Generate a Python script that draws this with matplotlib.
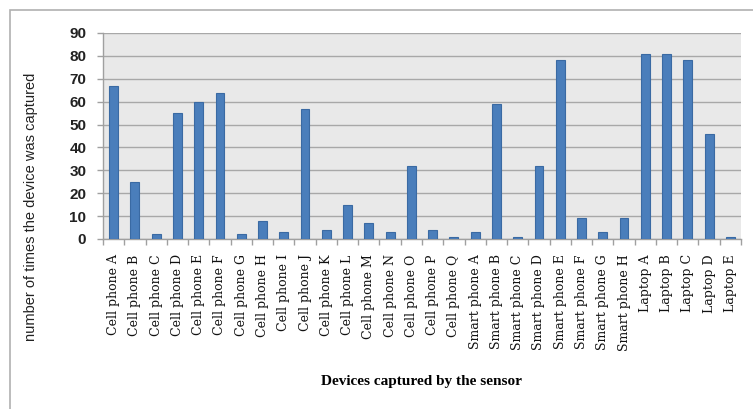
import matplotlib
matplotlib.use("Agg")
import matplotlib.pyplot as plt
from matplotlib.patches import Rectangle
from matplotlib.ticker import FixedLocator, NullFormatter
import numpy as np

devices = [
    "Cell phone A", "Cell phone B", "Cell phone C", "Cell phone D", "Cell phone E",
    "Cell phone F", "Cell phone G", "Cell phone H", "Cell phone I", "Cell phone J",
    "Cell phone K", "Cell phone L", "Cell phone M", "Cell phone N", "Cell phone O",
    "Cell phone P", "Cell phone Q",
    "Smart phone A", "Smart phone B", "Smart phone C", "Smart phone D",
    "Smart phone E", "Smart phone F", "Smart phone G", "Smart phone H",
    "Laptop A", "Laptop B", "Laptop C", "Laptop D", "Laptop E",
]
captures = [67, 25, 2, 55, 60, 64, 2, 8, 3, 57, 4, 15, 7, 3, 32, 4, 1,
            3, 59, 1, 32, 78, 9, 3, 9,
            81, 81, 78, 46, 1]
y_ticks = [0, 10, 20, 30, 40, 50, 60, 70, 80, 90]

fig = plt.figure(figsize=(7.53, 4.09), dpi=100)
fig.patch.set_facecolor("white")

# light frame around the chart area
fig.add_artist(Rectangle((10 / 753, -0.05), 1.1, 1 - 10 / 409 + 0.05,
                         transform=fig.transFigure, fill=False,
                         edgecolor="#b0b0b0", linewidth=1.2))

ax = fig.add_axes([103 / 753, 1 - 239 / 409, (741 - 103) / 753, (239 - 33) / 409])
ax.set_facecolor("#e9e9e9")

x = np.arange(len(devices))
ax.bar(x, captures, width=0.42, color="#4a7ebb", edgecolor="#3a6aa3",
       linewidth=0.8, zorder=3)

ax.set_xlim(-0.5, len(devices) - 0.5)
ax.set_ylim(0, 90)
ax.set_yticks(y_ticks)
ax.set_yticklabels([str(v) for v in y_ticks], fontsize=11, fontweight="bold",
                   family="Liberation Sans", color="#222222")
ax.yaxis.grid(True, color="#a8a8a8", linewidth=1.0, zorder=0)
ax.set_axisbelow(True)

ax.set_xticks(x)
ax.set_xticklabels(devices, rotation=90, fontsize=9, family="DejaVu Serif",
                   color="#111111")
ax.tick_params(axis="x", which="major", length=0, pad=11)
ax.xaxis.set_minor_locator(FixedLocator(np.arange(-0.5, len(devices), 1.0)))
ax.xaxis.set_minor_formatter(NullFormatter())
ax.tick_params(axis="x", which="minor", length=4, color="#a0a0a0", width=1)
ax.tick_params(axis="y", length=4, color="#a0a0a0", width=1, pad=8)

for side in ["top", "right"]:
    ax.spines[side].set_visible(False)
for side in ["left", "bottom"]:
    ax.spines[side].set_color("#a0a0a0")
    ax.spines[side].set_linewidth(1.0)

fig.text(31 / 753, 1 - 207 / 409, "number of times the device was captured",
         rotation=90, ha="center", va="center", fontsize=10.5,
         family="Liberation Sans", color="#222222")
fig.text(422 / 753, 1 - 381 / 409, "Devices captured by the sensor", ha="center",
         va="center", fontsize=11, fontweight="bold", family="Liberation Serif")

fig.savefig("out.png", dpi=100, facecolor="white")
